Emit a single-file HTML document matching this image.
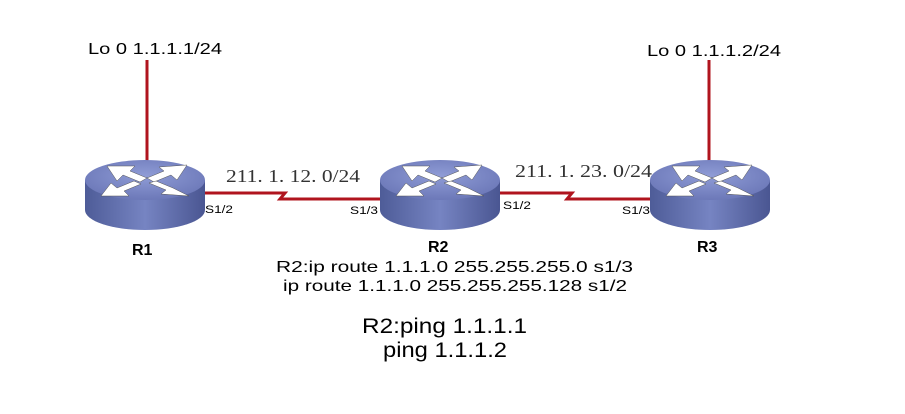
<!DOCTYPE html>
<html><head><meta charset="utf-8"><style>
body{margin:0;background:#fff;}
svg{display:block;font-family:"Liberation Sans",sans-serif;}
.s{font-family:"Liberation Serif",serif;font-size:18px;fill:#333}
</style></head><body>
<svg width="905" height="414" viewBox="0 0 905 414">
<defs>
<linearGradient id="side" x1="0" x2="1" y1="0" y2="0">
<stop offset="0" stop-color="#4e5c98"/><stop offset="0.5" stop-color="#7684c2"/><stop offset="1" stop-color="#4a5692"/>
</linearGradient>
<radialGradient id="top" cx="0.5" cy="0.4" r="0.6">
<stop offset="0" stop-color="#8f9cd6"/><stop offset="1" stop-color="#6c78b8"/>
</radialGradient>
<g id="rt">
<path d="M0,20 L0,50 A60,20 0 0 0 120,50 L120,20 Z" fill="url(#side)"/>
<ellipse cx="60" cy="20" rx="60" ry="20" fill="url(#top)"/>
<g fill="#fff" stroke="#555" stroke-width="0.5">
<polygon points="22,6 50,6 45,11 62,18 55,22 38,15 32,21"/>
<polygon points="102,5 74,7 79,11 62,18 69,22 86,15 92,20"/>
<polygon points="16,36 44,36 39,31 56,24 49,21 32,28 26,23"/>
<polygon points="104,36 76,34 81,30 64,23 71,21 88,28 94,31"/>
</g>
</g>
</defs>
<g stroke="#b0141e" stroke-width="3" fill="none">
<line x1="147" y1="60" x2="147" y2="168"/>
<line x1="709" y1="60" x2="709" y2="168"/>
<polyline points="203,193 285,193 280,199 380,199"/>
<polyline points="500,193 572,193 567,199 652,199"/>
</g>
<use href="#rt" x="85" y="160"/>
<use href="#rt" x="380" y="160"/>
<use href="#rt" x="650" y="160"/>
<text x="88" y="54" font-size="16" textLength="134" lengthAdjust="spacingAndGlyphs">Lo 0 1.1.1.1/24</text>
<text x="647" y="56" font-size="16" textLength="134" lengthAdjust="spacingAndGlyphs">Lo 0 1.1.1.2/24</text>
<text class="s" x="226" y="182" textLength="134" lengthAdjust="spacingAndGlyphs">211. 1. 12. 0/24</text>
<text class="s" x="515" y="177" textLength="137" lengthAdjust="spacingAndGlyphs">211. 1. 23. 0/24</text>
<g font-size="11">
<text x="205" y="213" textLength="28" lengthAdjust="spacingAndGlyphs">S1/2</text>
<text x="350" y="214" textLength="28" lengthAdjust="spacingAndGlyphs">S1/3</text>
<text x="503" y="209" textLength="28" lengthAdjust="spacingAndGlyphs">S1/2</text>
<text x="622" y="214" textLength="28" lengthAdjust="spacingAndGlyphs">S1/3</text>
</g>
<g font-size="16" font-weight="bold">
<text x="132" y="255">R1</text>
<text x="428" y="252">R2</text>
<text x="697" y="252">R3</text>
</g>
<g font-size="16">
<text x="276" y="272" textLength="357" lengthAdjust="spacingAndGlyphs">R2:ip route 1.1.1.0 255.255.255.0 s1/3</text>
<text x="283" y="291" textLength="344" lengthAdjust="spacingAndGlyphs">ip route 1.1.1.0 255.255.255.128 s1/2</text>
</g>
<g font-size="21">
<text x="362" y="333" textLength="165" lengthAdjust="spacingAndGlyphs">R2:ping 1.1.1.1</text>
<text x="383" y="357" textLength="124" lengthAdjust="spacingAndGlyphs">ping 1.1.1.2</text>
</g>
</svg>
</body></html>
